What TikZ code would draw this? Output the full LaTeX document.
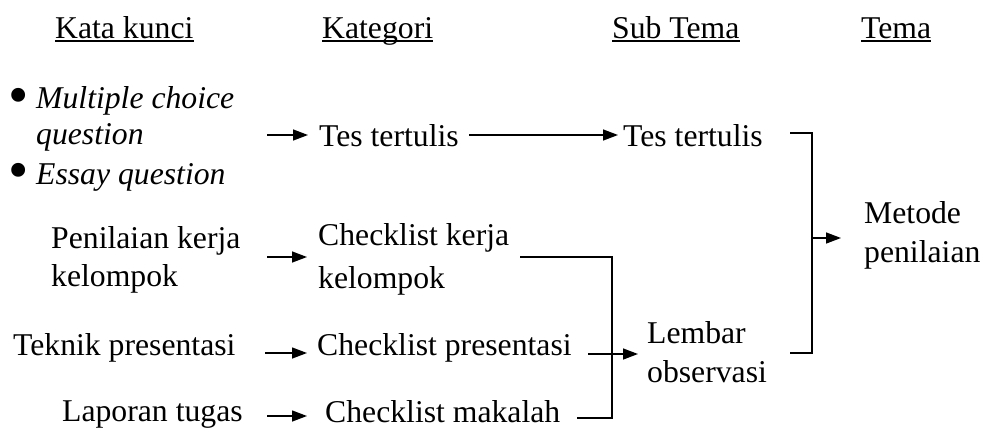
\documentclass[tikz,border=0pt]{standalone}
\usepackage{fontspec}
\setmainfont{Liberation Serif}
\usetikzlibrary{arrows.meta}
\begin{document}
\begin{tikzpicture}[x=1pt,y=-1pt,
  txt/.style={anchor=base west, inner sep=0pt, font=\fontsize{31.7}{40}\selectfont},
  itxt/.style={txt, font=\fontsize{31.7}{40}\selectfont\itshape},
  bul/.style={anchor=center, inner sep=0pt, font=\fontsize{58}{58}\selectfont},
  arr/.style={-{Triangle[length=15pt,width=11pt]}, line width=1.4pt},
  ln/.style={line width=1.4pt},
  uline/.style={line width=1.4pt}]
\useasboundingbox (0,0) rectangle (992,439);

% headers
\node[txt] (h1) at (55,38) {Kata kunci};
\node[txt] (h2) at (322,38) {Kategori};
\node[txt] (h3) at (612,38) {Sub Tema};
\node[txt] (h4) at (861,38) {Tema};
\foreach \h in {h1,h2,h3,h4}
  \draw[uline] ([yshift=-3pt]\h.base west) -- ([yshift=-3pt]\h.base east);

% kata kunci column
\node[bul] (b1) at (19,101) {•};
\node[itxt] (k1a) at (36,108) {Multiple choice};
\node[itxt] (k1b) at (36,144) {question};
\node[bul] (b2) at (19,176) {•};
\node[itxt] (k1c) at (36,184) {Essay question};
\node[txt] (k2a) at (51,248) {Penilaian kerja};
\node[txt] (k2b) at (51,286) {kelompok};
\node[txt] (k3) at (13,355) {Teknik presentasi};
\node[txt] (k4) at (62,421) {Laporan tugas};

% kategori column
\node[txt] (c1) at (319,146) {Tes tertulis};
\node[txt] (c2a) at (318,245) {Checklist kerja};
\node[txt] (c2b) at (318,288) {kelompok};
\node[txt] (c3) at (317,355) {Checklist presentasi};
\node[txt] (c4) at (325,422) {Checklist makalah};

% sub tema column
\node[txt] (s1) at (623,146) {Tes tertulis};
\node[txt] (s2a) at (647,343) {Lembar};
\node[txt] (s2b) at (647,382) {observasi};

% tema
\node[txt] (t1a) at (864,223) {Metode};
\node[txt] (t1b) at (864,262) {penilaian};

% connector points
\coordinate (p1s) at (267,135);  \coordinate (p1e) at (308,135);
\coordinate (p2s) at (469,135);  \coordinate (p2e) at (618,135);
\coordinate (p3s) at (267,257);  \coordinate (p3e) at (307,257);
\coordinate (p4s) at (265,353);  \coordinate (p4e) at (307,353);
\coordinate (p5s) at (267,416);  \coordinate (p5e) at (307,416);
\coordinate (q1) at (520,257);   \coordinate (q2) at (612,257);
\coordinate (q3) at (612,418);   \coordinate (q4) at (577,418);
\coordinate (q5s) at (588,354);  \coordinate (q5e) at (638,354);
\coordinate (r1) at (790,133);   \coordinate (r2) at (812,133);
\coordinate (r3) at (812,353);   \coordinate (r4) at (790,353);
\coordinate (r5s) at (812,238);  \coordinate (r5e) at (841,238);

\draw[arr] (p1s) -- (p1e);
\draw[arr] (p2s) -- (p2e);
\draw[arr] (p3s) -- (p3e);
\draw[arr] (p4s) -- (p4e);
\draw[arr] (p5s) -- (p5e);
\draw[ln] (q1) -- (q2) -- (q3) -- (q4);
\draw[arr] (q5s) -- (q5e);
\draw[ln] (r1) -- (r2) -- (r3) -- (r4);
\draw[arr] (r5s) -- (r5e);
\end{tikzpicture}
\end{document}
